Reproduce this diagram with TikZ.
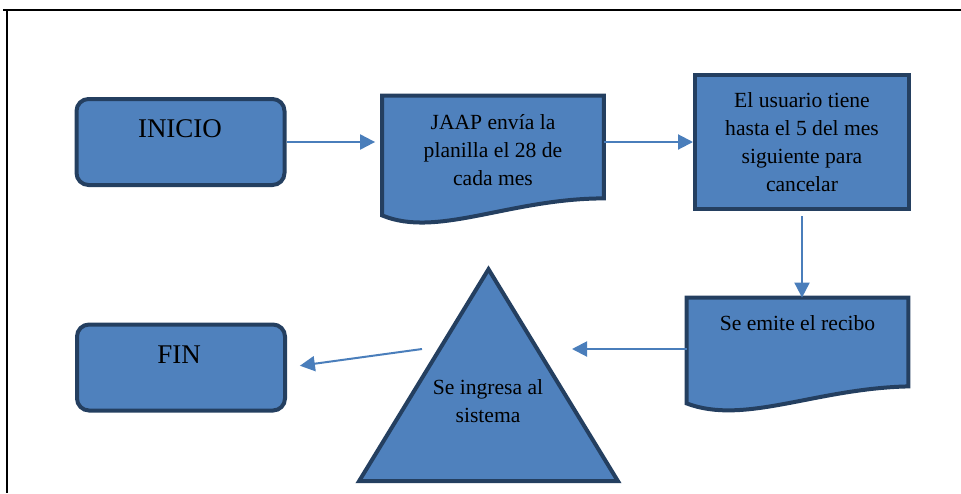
\documentclass[tikz,border=0pt]{standalone}
\usepackage{fontspec}
\setmainfont{Liberation Serif}
\usetikzlibrary{shapes.geometric,arrows.meta,positioning,calc,backgrounds}

\definecolor{boxfill}{HTML}{4F81BD}
\definecolor{boxline}{HTML}{243F60}
\definecolor{arrowblue}{HTML}{4A7EBB}

\begin{document}
\begin{tikzpicture}[x=0.5pt, y=-0.5pt,
    terminal/.style={draw=boxline, fill=boxfill, line width=2pt, rounded corners=6pt, minimum width=104pt, minimum height=43pt, inner sep=0pt},
    process/.style={draw=boxline, fill=boxfill, line width=2pt, minimum width=107pt, minimum height=67pt, inner sep=0pt, align=center, font=\fontsize{10.8}{14}\selectfont},
    docbox/.style={rectangle, minimum width=110.5pt, inner sep=0pt, align=center, font=\fontsize{10.8}{13.8}\selectfont},
    docline/.style={draw=boxline, fill=boxfill, line width=2pt, line join=miter},
    tribox/.style={isosceles triangle, isosceles triangle stretches, shape border rotate=90, draw=boxline, fill=boxfill, line width=2pt, line join=miter, minimum width=129.5pt, minimum height=106pt, inner sep=0pt},
    txt/.style={align=center, font=\fontsize{10.8}{14}\selectfont},
    title/.style={font=\fontsize{13.5}{16}\selectfont},
    edge/.style={-{Triangle[length=7.5pt,width=7.5pt]}, line width=1pt, draw=arrowblue},
]
\useasboundingbox (0,0) rectangle (961,493);

% Frame
\draw[line width=1pt] (3,10) -- (961,10);
\draw[line width=1pt] (7,10) -- (7,493);

% Start
\node[terminal] (inicio) at (180.5,142) {};
\node[title] (inicioT) at (180,129) {INICIO};

% Planilla
\node[docbox, minimum height=54pt] (jaap) at (493,150) {JAAP envía la\\planilla el 28 de\\cada mes};

% Plazo
\node[process] (usuario) at (802,142) {El usuario tiene\\hasta el 5 del mes\\siguiente para\\cancelar};

% Recibo
\node[docbox, minimum height=44pt] (recibo) at (797.5,342) {};
\node[txt] (reciboT) at (797.5,323) {Se emite el recibo};

% Sistema
\node[tribox, anchor=apex] (tri) at (488.5,264) {};
\node[txt] (triT) at (488,401) {Se ingresa al\\sistema};
\coordinate (triR) at (572,349);
\coordinate (triL) at (422,349);

% End
\node[terminal] (fin) at (181,367.5) {};
\node[title] (finT) at (179,355) {FIN};

% Document outlines
\begin{scope}[on background layer]
\draw[docline] (jaap.north west) -- (jaap.north east) -- ([yshift=3pt]jaap.south east)
  .. controls ([xshift=-47pt,yshift=3pt]jaap.south east) and ([xshift=27.5pt,yshift=-17pt]jaap.south west)
  .. ([yshift=-5.5pt]jaap.south west) -- cycle;
\draw[docline] (recibo.north west) -- (recibo.north east) -- (recibo.south east)
  .. controls ([xshift=-46.5pt,yshift=-1pt]recibo.south east) and ([xshift=29pt,yshift=-19.5pt]recibo.south west)
  .. ([yshift=-8.5pt]recibo.south west) -- cycle;
\end{scope}

% Edges
\draw[edge, shorten >=3.5pt] (inicio.east) -- (inicio.east -| jaap.west);
\draw[edge] (inicio.east -| jaap.east) -- (inicio.east -| usuario.west);
\draw[edge, shorten <=2.5pt] (usuario.south) -- (usuario.south |- recibo.north);
\draw[edge] (recibo.west |- triR) -- (triR);
\draw[edge, shorten >=6.5pt] (triL) -- (fin.east);

\end{tikzpicture}
\end{document}
